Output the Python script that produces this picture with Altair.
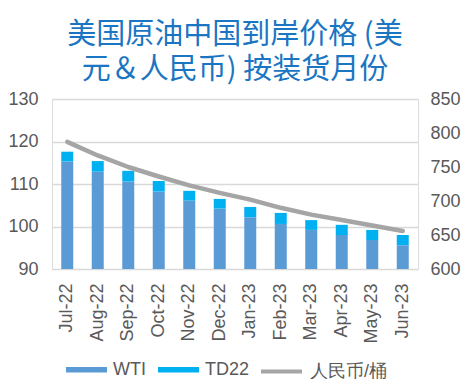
import altair as alt
import pandas as pd

months = ["Jul-22", "Aug-22", "Sep-22", "Oct-22", "Nov-22", "Dec-22",
          "Jan-23", "Feb-23", "Mar-23", "Apr-23", "May-23", "Jun-23"]
wti = [115.3, 112.9, 110.6, 108.2, 106.1, 104.2, 102.2, 100.6, 99.2, 98.0, 96.8, 95.6]
td22 = [2.3, 2.5, 2.5, 2.5, 2.3, 2.3, 2.4, 2.6, 2.3, 2.4, 2.4, 2.4]
rmb = [787, 767, 750, 736, 723, 712, 702, 690, 680, 672, 664, 656]
series = ["WTI", "TD22"]
line_name = "人民币/桶"

rows = []
for m, w, t in zip(months, wti, td22):
    rows.append({"month": m, "series": "WTI", "order": 0, "value": w})
    rows.append({"month": m, "series": "TD22", "order": 1, "value": t})
bar_df = pd.DataFrame(rows)
line_df = pd.DataFrame({"month": months, "rmb": rmb, "label": line_name})

FONT = "Liberation Sans"
GREY = "#595959"

x = alt.X("month:N", sort=months, title=None,
          scale=alt.Scale(paddingInner=0, paddingOuter=0),
          axis=alt.Axis(labelAngle=-90, labelFontSize=18, labelColor=GREY, labelFont=FONT,
                        labelPadding=14, ticks=False, domain=False, grid=False))

bars = alt.Chart(bar_df).mark_bar(size=12, clip=True).encode(
    x=x,
    y=alt.Y("value:Q", stack="zero", title=None,
            scale=alt.Scale(domain=[90, 130], zero=False, nice=False),
            axis=alt.Axis(values=[90, 100, 110, 120, 130], labelFontSize=18, labelColor=GREY,
                          labelFont=FONT, labelPadding=14, ticks=False, domain=False,
                          grid=True, gridColor="#D9D9D9", gridWidth=1.5)),
    color=alt.Color("series:N", scale=alt.Scale(domain=series, range=["#5B9BD5", "#00B0F0"]),
                    legend=alt.Legend(title=None, orient="none", direction="horizontal",
                                      legendX=14, legendY=250,
                                      symbolType="M-1,-0.135H1V0.135H-1Z", symbolSize=1681,
                                      symbolStrokeWidth=0, symbolOpacity=1,
                                      labelFontSize=18, labelColor=GREY, labelFont=FONT,
                                      labelOffset=6, columnPadding=12)),
    order=alt.Order("order:Q"),
)

line = alt.Chart(line_df).mark_line(strokeWidth=4.5, strokeCap="round", strokeJoin="round").encode(
    x=x,
    y=alt.Y("rmb:Q", title=None,
            scale=alt.Scale(domain=[600, 850], zero=False, nice=False),
            axis=alt.Axis(orient="right", values=[600, 650, 700, 750, 800, 850], labelFontSize=18,
                          labelColor=GREY, labelFont=FONT, labelPadding=12, ticks=False,
                          domain=False, grid=False)),
    stroke=alt.Stroke("label:N", scale=alt.Scale(domain=[line_name], range=["#A5A5A5"]),
                      legend=alt.Legend(title=None, orient="none", direction="horizontal",
                                        legendX=207, legendY=250,
                                        symbolType="stroke", symbolSize=1681,
                                        symbolStrokeWidth=4, symbolStrokeColor="#A5A5A5",
                                        labelFontSize=18, labelColor=GREY, labelFont=FONT,
                                        labelOffset=6)),
)

chart = alt.layer(bars, line).resolve_scale(y="independent").properties(
    width=366, height=170,
    title=alt.TitleParams(["美国原油中国到岸价格 (美", "元＆人民币) 按装货月份"],
                          fontSize=29, font="Noto Sans CJK SC", fontWeight="normal",
                          color="#1A75C2", lineHeight=35, offset=5, anchor="middle"),
    autosize=alt.AutoSizeParams(type="none"),
    padding={"left": 44, "top": 91, "right": 45, "bottom": 110},
).configure_view(stroke=None).configure(background="white")

chart.save("out.html", embed_options={"renderer": "svg", "actions": False})
